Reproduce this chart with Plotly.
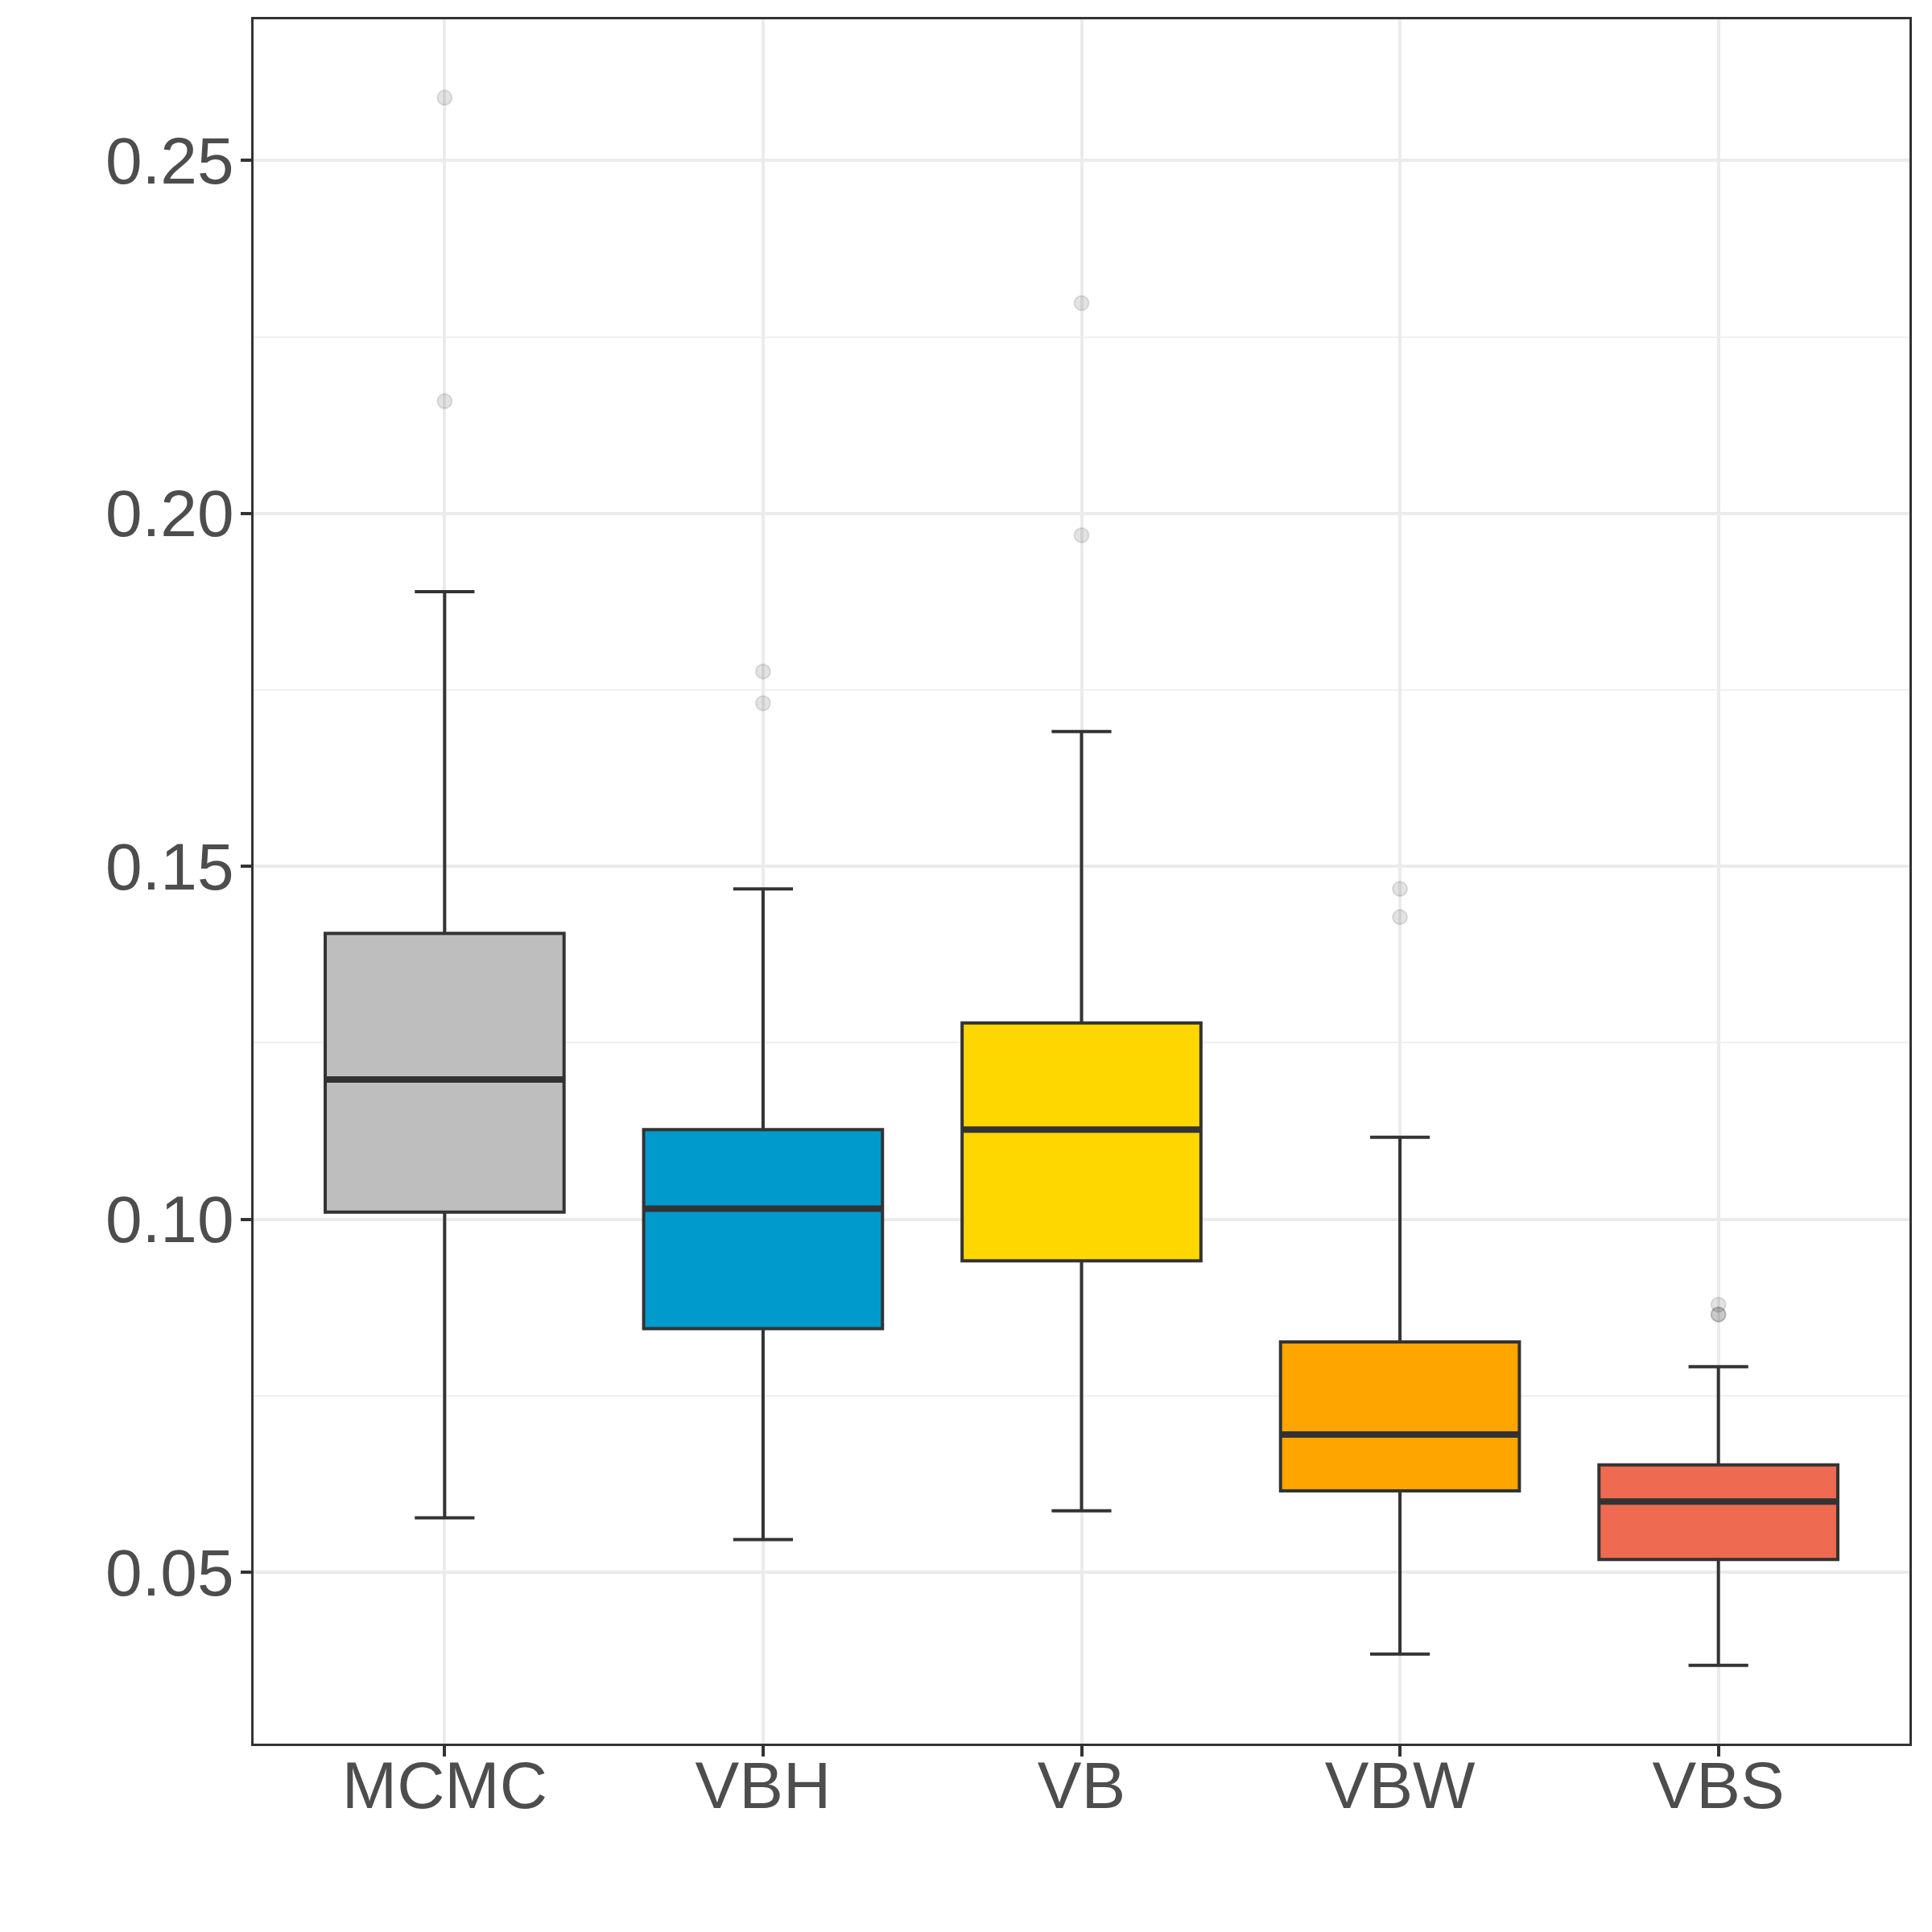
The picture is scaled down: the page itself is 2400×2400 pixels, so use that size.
import plotly.graph_objects as go

categories = ["MCMC", "VBH", "VB", "VBW", "VBS"]
lower_whisker = [0.0577, 0.0546, 0.0587, 0.0384, 0.0368]
q1 = [0.1010, 0.0845, 0.0941, 0.0615, 0.0518]
median = [0.1198, 0.1015, 0.1127, 0.0695, 0.0600]
q3 = [0.1405, 0.1127, 0.1278, 0.0826, 0.0652]
upper_whisker = [0.1889, 0.1468, 0.1691, 0.1116, 0.0791]
outliers = {
    "MCMC": [0.2589, 0.2159],
    "VBH": [0.1776, 0.1731],
    "VB": [0.2298, 0.1969],
    "VBW": [0.1468, 0.1428],
    "VBS": [0.0879, 0.0865, 0.0865],
}
fill_colors = ["#BEBEBE", "#009ACD", "#FFD700", "#FFA500", "#EE6A50"]

fig = go.Figure()
positions = list(range(len(categories)))

for i, cat in enumerate(categories):
    fig.add_trace(go.Box(
        x=[positions[i]], q1=[q1[i]], median=[median[i]], q3=[q3[i]],
        lowerfence=[lower_whisker[i]], upperfence=[upper_whisker[i]],
        width=0.75, whiskerwidth=0.25, boxpoints=False,
        fillcolor=fill_colors[i], line=dict(color="#333333", width=4),
        showlegend=False, hoverinfo="skip",
    ))
    # thicker median line
    fig.add_trace(go.Box(
        x=[positions[i]], q1=[median[i]], median=[median[i]], q3=[median[i]],
        lowerfence=[median[i]], upperfence=[median[i]],
        width=0.75, whiskerwidth=0, boxpoints=False,
        fillcolor="rgba(0,0,0,0)", line=dict(color="#333333", width=8),
        showlegend=False, hoverinfo="skip",
    ))

for i, cat in enumerate(categories):
    vals = outliers[cat]
    fig.add_trace(go.Scatter(
        x=[positions[i]] * len(vals), y=vals, mode="markers",
        marker=dict(size=18, color="rgba(0,0,0,0.11)",
                    line=dict(color="rgba(0,0,0,0.11)", width=2)),
        showlegend=False, hoverinfo="skip",
    ))

axis_font = dict(family="Liberation Sans, Arial, sans-serif", size=82, color="#4D4D4D")

fig.update_layout(
    width=2400, height=2400,
    margin=dict(l=307, r=36, t=16, b=242),
    paper_bgcolor="white", plot_bgcolor="white",
    boxmode="overlay",
    xaxis=dict(
        range=[-0.6, 4.6], tickmode="array", tickvals=positions, ticktext=categories,
        showgrid=True, gridcolor="#EBEBEB", gridwidth=4, zeroline=False,
        showline=True, mirror=True, linecolor="#333333", linewidth=3,
        ticks="outside", ticklen=13, tickwidth=4, tickcolor="#333333",
        tickfont=axis_font, ticklabelstandoff=-34,
    ),
    yaxis=dict(
        range=[0.0257, 0.2700], tickmode="linear", tick0=0, dtick=0.05, tickformat=".2f",
        showgrid=True, gridcolor="#EBEBEB", gridwidth=4, zeroline=False,
        minor=dict(dtick=0.025, tick0=0, showgrid=True, gridcolor="#F0F0F0", gridwidth=2, ticks=""),
        showline=True, mirror=True, linecolor="#333333", linewidth=3,
        ticks="outside", ticklen=13, tickwidth=4, tickcolor="#333333",
        tickfont=axis_font, ticklabelstandoff=-8,
    ),
)

fig.write_html("out.html")
